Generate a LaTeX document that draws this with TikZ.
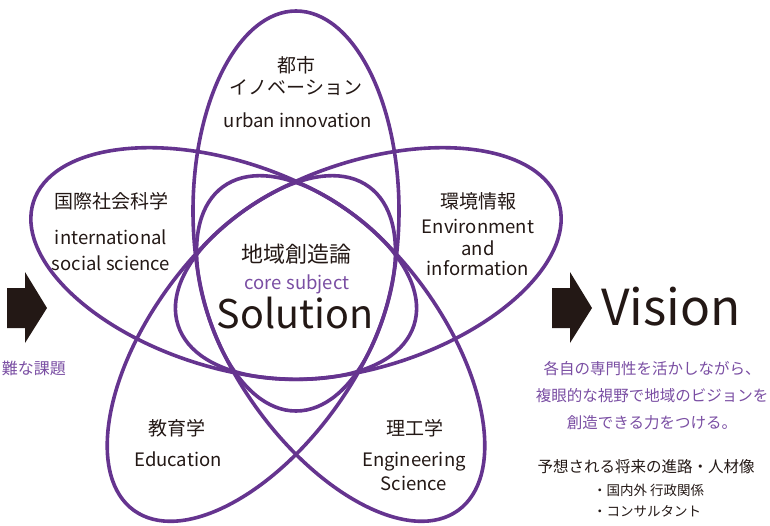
\documentclass[tikz,border=0pt]{standalone}
\usepackage{fontspec}
\setmainfont{Noto Sans CJK JP}
\definecolor{petal}{RGB}{101,52,143}
\definecolor{lilac}{RGB}{122,78,163}
\definecolor{ink}{RGB}{35,24,21}
\begin{document}
\begin{tikzpicture}[x=1pt, y=-1pt,
  petalline/.style={draw=petal, line width=3.6pt},
  lab/.style={text=ink, inner sep=0pt, font=\fontsize{19}{22}\selectfont},
  latin/.style={lab, anchor=base, font=\fontsize{18.5}{22}\selectfont},
  note/.style={inner sep=0pt, font=\fontsize{15.5}{27}\selectfont, align=center},
  blockarrow/.style={fill=ink}]
\useasboundingbox (0,0) rectangle (770,525);
\coordinate (mid) at (296,287);
\foreach \r in {0,72,144,216,288}
  \draw[petalline, rotate around={\r:(mid)}] (296,211) ellipse [x radius=103, y radius=200];
\node[lab] (lab0) at (296,65){都市};
\node[lab] (lab1) at (296,88){イノベーション};
\node[latin] (lab2) at (298,127){urban innovation};
\node[lab] (lab3) at (111,201){国際社会科学};
\node[latin] (lab4) at (111,244){international};
\node[latin] (lab5) at (111,270){social science};
\node[lab] (lab6) at (478,201){環境情報};
\node[latin] (lab7) at (478,233){Environment};
\node[latin] (lab8) at (478,255){and};
\node[latin] (lab9) at (478,275){information};
\node[lab, font=\fontsize{22}{24}\selectfont] (core0) at (296,254){地域創造論};
\node[latin, text=lilac] (core1) at (297,289){core subject};
\node[lab, font=\fontsize{39.5}{42}\selectfont, anchor=base] (core2) at (295,328){Solution};
\node[lab] (lab10) at (177,428){教育学};
\node[latin] (lab11) at (178,466){Education};
\node[lab] (lab12) at (415,428){理工学};
\node[latin] (lab13) at (414,466){Engineering};
\node[latin] (lab14) at (414,490){Science};
\fill[blockarrow] (7,288) -- (25,288) -- (25,272) -- (47,308) -- (25,343) -- (25,328) -- (7,328) -- cycle;
\node[note, text=lilac, font=\fontsize{16}{18}\selectfont, anchor=east] (issue) at (66,368){難な課題};
\fill[blockarrow] (552,288) -- (570,288) -- (570,272) -- (592,308) -- (570,343) -- (570,328) -- (552,328) -- cycle;
\node[lab, font=\fontsize{49.6}{52}\selectfont, anchor=base west] (vision) at (601,325){Vision};
\node[note, text=lilac] (aim) at (652,396){各自の専門性を活かしながら、\\複眼的な視野で地域のビジョンを\\創造できる力をつける。};
\node[note, text=ink] (path0) at (646,467){予想される将来の進路・人材像};
\node[note, text=ink, font=\fontsize{13.5}{15}\selectfont, anchor=west] (path1) at (593,490){・国内外 行政関係};
\node[note, text=ink, font=\fontsize{13.5}{15}\selectfont, anchor=west] (path2) at (593,511){・コンサルタント};
\end{tikzpicture}
\end{document}
